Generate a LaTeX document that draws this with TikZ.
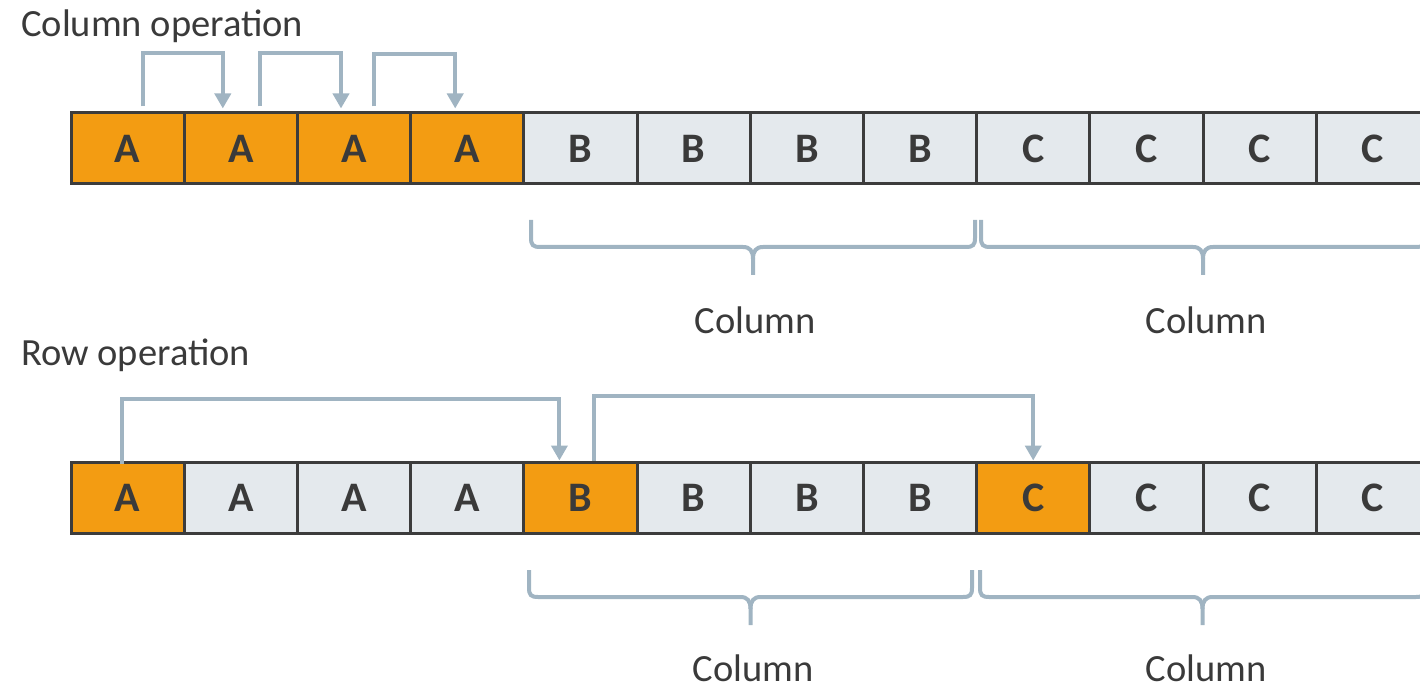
\documentclass[tikz,border=0pt]{standalone}
\usepackage{fontspec}
\setmainfont{Carlito}
\usetikzlibrary{arrows.meta,calc}

\definecolor{hl}{HTML}{F39C12}
\definecolor{cellgrey}{HTML}{E4E9ED}
\definecolor{edge}{HTML}{3C3C3C}
\definecolor{link}{HTML}{A0B4C2}
\definecolor{ink}{HTML}{3A3A3A}

\tikzset{
  cell/.style={draw=edge, line width=3pt, fill=cellgrey, minimum width=113.2pt,
    minimum height=71pt, inner sep=0pt, text=ink,
    font=\fontsize{42}{48}\selectfont\bfseries},
  hot/.style={cell, fill=hl},
  caption/.style={text=ink, inner sep=0pt, font=\fontsize{38.5}{46}\selectfont},
  jump/.style={draw=link, line width=4pt, -{Triangle[width=16pt,length=15pt]}},
  brace/.style={draw=link, line width=4pt, line cap=butt}
}

% curly brace: left x, right x, top y, bar y, tip y
\newcommand{\colbrace}[5]{%
  \draw[brace] (#1,#3) -- (#1,#4-9) .. controls (#1,#4-2) and (#1+2,#4) .. (#1+9,#4)
    -- ({(#1+#2)/2-10},#4) .. controls ({(#1+#2)/2-3},#4) and ({(#1+#2)/2},#4+4) .. ({(#1+#2)/2},#4+12)
    -- ({(#1+#2)/2},#5);
  \draw[brace] (#2,#3) -- (#2,#4-9) .. controls (#2,#4-2) and (#2-2,#4) .. (#2-9,#4)
    -- ({(#1+#2)/2+10},#4) .. controls ({(#1+#2)/2+3},#4) and ({(#1+#2)/2},#4+4) .. ({(#1+#2)/2},#4+12);
}

\begin{document}
\begin{tikzpicture}[x=1pt,y=-1pt]
\path[use as bounding box, clip] (0,0) rectangle (1420,684);

% ---- column operation ----
\node[caption, anchor=base west] (t-title) at (21,37) {Column operation};

\foreach \i/\l/\s in {1/A/hot,2/A/hot,3/A/hot,4/A/hot,5/B/cell,6/B/cell,7/B/cell,8/B/cell,
                      9/C/cell,10/C/cell,11/C/cell,12/C/cell}
  \node[\s] (t\i) at ({71+113.2*(\i-0.5)},148.5) {\l};

\draw[jump] ([xshift=15pt,yshift=5pt]t1.north) -- ++(0,-53) -| ([xshift=-18pt,yshift=3pt]t2.north);
\draw[jump] ([xshift=19pt,yshift=5pt]t2.north) -- ++(0,-53) -| ([xshift=-13pt,yshift=3pt]t3.north);
\draw[jump] ([xshift=20pt,yshift=5pt]t3.north) -- ++(0,-52) -| ([xshift=-12pt,yshift=3pt]t4.north);

\colbrace{531}{975}{220}{247}{275}
\colbrace{981}{1425}{220}{247}{275}
\node[caption, anchor=base] (t-col1) at (755,333) {Column};
\node[caption, anchor=base] (t-col2) at (1206,333) {Column};

% ---- row operation ----
\node[caption, anchor=base west] (b-title) at (21,365) {Row operation};

\foreach \i/\l/\s in {1/A/hot,2/A/cell,3/A/cell,4/A/cell,5/B/hot,6/B/cell,7/B/cell,8/B/cell,
                      9/C/hot,10/C/cell,11/C/cell,12/C/cell}
  \node[\s] (b\i) at ({71+113.2*(\i-0.5)},497.5) {\l};

\draw[jump] ([xshift=-6pt,yshift=-3pt]b1.north) -- ++(0,-65) -| ([xshift=-21pt]b5.north);
\draw[jump] ([xshift=14pt]b5.north) -- ++(0,-65) -| ([xshift=0pt]b9.north);

\colbrace{529}{972}{570}{597}{625}
\colbrace{980}{1425}{570}{597}{625}
\node[caption, anchor=base] (b-col1) at (753,681) {Column};
\node[caption, anchor=base] (b-col2) at (1206,681) {Column};
\end{tikzpicture}
\end{document}
